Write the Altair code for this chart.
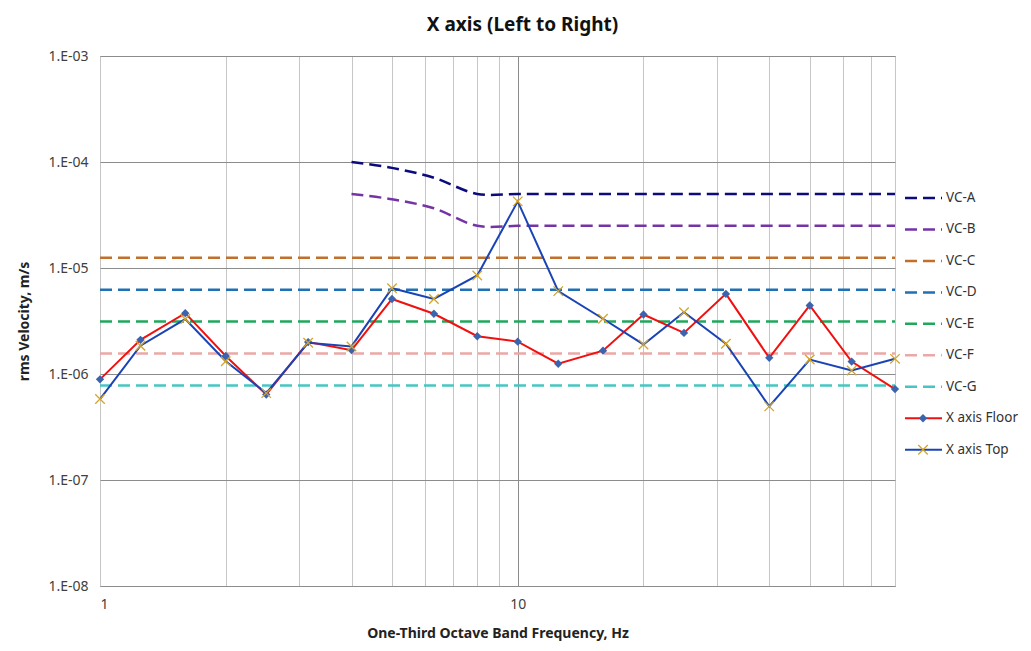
import altair as alt
import pandas as pd

# ---------------- data ----------------
freqs = [1, 1.25, 1.6, 2, 2.5, 3.15, 4, 5, 6.3, 8, 10, 12.5, 16, 20, 25, 31.5, 40, 50, 63, 80]
floor_vals = [8.9e-7, 2.1e-6, 3.75e-6, 1.48e-6, 6.4e-7, 2.0e-6, 1.68e-6, 5.1e-6, 3.7e-6, 2.27e-6,
              2.02e-6, 1.25e-6, 1.66e-6, 3.64e-6, 2.44e-6, 5.7e-6, 1.42e-6, 4.43e-6, 1.31e-6, 7.2e-7]
top_vals = [5.8e-7, 1.85e-6, 3.3e-6, 1.32e-6, 6.6e-7, 1.97e-6, 1.82e-6, 6.45e-6, 5.1e-6, 8.5e-6,
            4.25e-5, 6.05e-6, 3.32e-6, 1.9e-6, 3.83e-6, 1.93e-6, 4.95e-7, 1.37e-6, 1.08e-6, 1.39e-6]

vc_ab_freqs = [4, 5, 6.3, 8, 10, 12.5, 16, 20, 25, 31.5, 40, 50, 63, 80]
vc_a_vals = [1.0e-4, 8.8e-5, 7.1e-5, 5.0e-5, 5.0e-5, 5.0e-5, 5.0e-5, 5.0e-5, 5.0e-5, 5.0e-5, 5.0e-5, 5.0e-5, 5.0e-5, 5.0e-5]
vc_b_vals = [5.0e-5, 4.45e-5, 3.66e-5, 2.5e-5, 2.5e-5, 2.5e-5, 2.5e-5, 2.5e-5, 2.5e-5, 2.5e-5, 2.5e-5, 2.5e-5, 2.5e-5, 2.5e-5]
vc_flat_names = ["VC-C", "VC-D", "VC-E", "VC-F", "VC-G"]
vc_flat_levels = [1.25e-5, 6.25e-6, 3.12e-6, 1.56e-6, 7.8e-7]
vc_flat_span = [1, 80]

vc_names = ["VC-A", "VC-B", "VC-C", "VC-D", "VC-E", "VC-F", "VC-G"]
vc_colors = ["#0B0B7A", "#7434A6", "#C0702A", "#1F70B4", "#1FA85C", "#EBA8A8", "#45C6C2"]
series_names = ["X axis Floor", "X axis Top"]
legend_names = vc_names + series_names

x_ticks = [1, 2, 3, 4, 5, 6, 7, 8, 9, 10, 20, 30, 40, 50, 60, 70, 80]
y_ticks = [1e-8, 1e-7, 1e-6, 1e-5, 1e-4, 1e-3]

# ---------------- tables ----------------
rows = []
for f, v in zip(vc_ab_freqs, vc_a_vals):
    rows.append({"series": "VC-A", "freq": f, "value": v})
for f, v in zip(vc_ab_freqs, vc_b_vals):
    rows.append({"series": "VC-B", "freq": f, "value": v})
for n, lv in zip(vc_flat_names, vc_flat_levels):
    for f in vc_flat_span:
        rows.append({"series": n, "freq": f, "value": lv})
vc_df = pd.DataFrame(rows)

floor_df = pd.DataFrame({"freq": freqs, "value": floor_vals})
top_df = pd.DataFrame({"freq": freqs, "value": top_vals})

leg_df = pd.DataFrame({"name": legend_names, "idx": list(range(len(legend_names)))})
leg_vc = leg_df[leg_df["name"].isin(vc_names)]
leg_floor = leg_df[leg_df["name"] == "X axis Floor"]
leg_top = leg_df[leg_df["name"] == "X axis Top"]

FONT = "Noto Sans"
W, H = 795, 530

x_enc = alt.X(
    "freq:Q",
    scale=alt.Scale(type="log", domain=[1, 80], nice=False),
    axis=alt.Axis(
        title="One-Third Octave Band Frequency, Hz",
        values=x_ticks,
        labelExpr="datum.value == 1 || datum.value == 10 ? format(datum.value, 'd') : ''",
        ticks=False, domain=False,
        gridColor=alt.condition("datum.value == 10", alt.value("#8c8c8c"), alt.value("#c6c6c6")),
        labelFontSize=14, labelColor="#404040", labelPadding=11, labelFont=FONT,
        titleFontSize=14, titleFont=FONT, titleFontWeight="bold", titleColor="#222222",
        titlePadding=15,
    ),
)
y_enc = alt.Y(
    "value:Q",
    scale=alt.Scale(type="log", domain=[1e-8, 1e-3], nice=False),
    axis=alt.Axis(
        title="rms Velocity, m/s",
        values=y_ticks,
        labelExpr="'1.E-0' + round(-log(datum.value) / LN10)",
        ticks=False, domain=False, gridColor="#8c8c8c",
        labelFontSize=14, labelColor="#404040", labelPadding=12, labelFont=FONT,
        titleFontSize=14, titleFont=FONT, titleFontWeight="bold", titleColor="#222222",
        titlePadding=16,
    ),
)

vc_layer = alt.Chart(vc_df).mark_line(
    strokeWidth=2.5, strokeDash=[12, 6], interpolate="catmull-rom"
).encode(
    x=x_enc, y=y_enc,
    color=alt.Color("series:N", scale=alt.Scale(domain=vc_names, range=vc_colors), legend=None),
)

floor_line = alt.Chart(floor_df).mark_line(color="#F01010", strokeWidth=2).encode(x="freq:Q", y="value:Q")
floor_pts = alt.Chart(floor_df).mark_point(
    shape="diamond", filled=True, color="#3C64AE", size=70, opacity=1
).encode(x="freq:Q", y="value:Q")

XSHAPE = "M-1,-1L1,1M-1,1L1,-1"
top_line = alt.Chart(top_df).mark_line(color="#1A44B5", strokeWidth=2).encode(x="freq:Q", y="value:Q")
top_pts = alt.Chart(top_df).mark_point(
    shape=XSHAPE, filled=False, stroke="#D4A52A", strokeWidth=1.3, size=90, opacity=1
).encode(x="freq:Q", y="value:Q")

main = alt.layer(vc_layer, floor_line, floor_pts, top_line, top_pts)

# ---------------- legend (right side) ----------------
leg_y = alt.Y("idx:Q", scale=alt.Scale(domain=[-4.514, 12.333], reverse=True, nice=False, zero=False), axis=None)

leg_rules_vc = alt.Chart(leg_vc).mark_rule(strokeWidth=2.5, strokeDash=[12, 6]).encode(
    x=alt.value(805), x2=alt.value(842), y=leg_y,
    color=alt.Color("name:N", scale=alt.Scale(domain=vc_names, range=vc_colors), legend=None),
)
leg_floor_rule = alt.Chart(leg_floor).mark_rule(strokeWidth=2, color="#F01010").encode(
    x=alt.value(805), x2=alt.value(842), y=leg_y)
leg_floor_pt = alt.Chart(leg_floor).mark_point(
    shape="diamond", filled=True, color="#3C64AE", size=70, opacity=1).encode(x=alt.value(823), y=leg_y)
leg_top_rule = alt.Chart(leg_top).mark_rule(strokeWidth=2, color="#1A44B5").encode(
    x=alt.value(805), x2=alt.value(842), y=leg_y)
leg_top_pt = alt.Chart(leg_top).mark_point(
    shape=XSHAPE, filled=False, stroke="#D4A52A", strokeWidth=1.3, size=90, opacity=1).encode(x=alt.value(823), y=leg_y)
leg_text = alt.Chart(leg_df).mark_text(
    align="left", baseline="middle", fontSize=13.5, font=FONT, color="#333333"
).encode(x=alt.value(846), y=leg_y, text="name:N")

legend = alt.layer(leg_rules_vc, leg_floor_rule, leg_floor_pt, leg_top_rule, leg_top_pt, leg_text)

chart = alt.layer(main, legend).resolve_scale(y="independent", color="independent").properties(
    width=W, height=H,
    title=alt.TitleParams("X axis (Left to Right)", fontSize=19, fontWeight="bold", font=FONT,
                          anchor="middle", dx=25, offset=14, color="#111111"),
    autosize=alt.AutoSizeParams(type="none"),
    padding={"left": 92, "top": 48, "right": 128, "bottom": 55},
).configure_view(stroke="#8c8c8c", strokeWidth=1)

chart.save("out.html", embed_options={"renderer": "svg", "actions": False})
